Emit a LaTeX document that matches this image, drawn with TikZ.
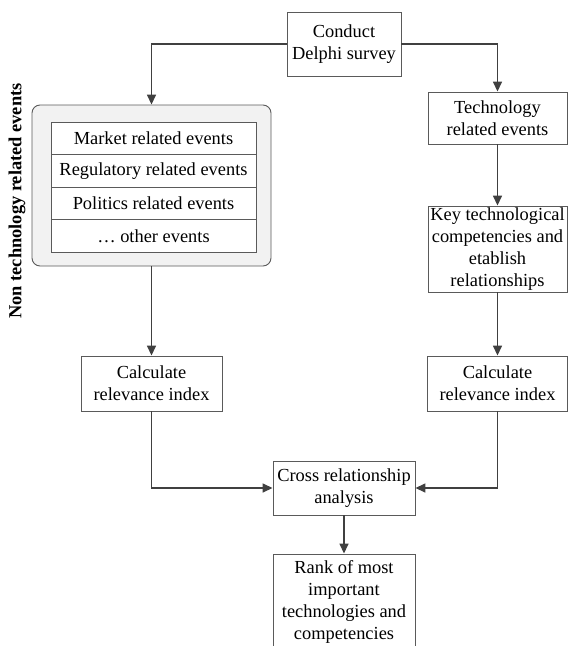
\documentclass[tikz,border=0pt]{standalone}
\usepackage{fontspec}
\setmainfont{Liberation Serif}
\usetikzlibrary{arrows.meta}
\definecolor{boxline}{HTML}{5A5A5A}
\definecolor{arrline}{HTML}{404040}
\definecolor{panel}{HTML}{F2F2F2}
\begin{document}
\begin{tikzpicture}[x=1pt,y=-1pt,
  every node/.style={font=\fontsize{18.4}{22}\selectfont},
  box/.style={draw=boxline, line width=0.9pt, fill=white, align=center, inner sep=0pt, rectangle},
  rowbox/.style={box, minimum width=205pt, minimum height=32.5pt},
  arr/.style={draw=arrline, line width=1.5pt, -{Triangle[length=10pt,width=9pt]}}]
\useasboundingbox (0,0) rectangle (568,646);

\node[box, minimum width=114pt, minimum height=64pt] (conduct) at (344,44) {Conduct\\Delphi survey};
\node[box, minimum width=139pt, minimum height=52pt] (tech) at (497.5,118) {Technology\\related events};
\node[box, minimum width=139pt, minimum height=86pt] (key) at (497.5,249) {Key technological\\competencies and\\etablish\\relationships};

\node[draw=boxline, line width=0.9pt, fill=panel, rounded corners=8pt, minimum width=239pt, minimum height=161pt, inner sep=0pt] (gray) at (151.5,185.5) {};
\node[rowbox] (r1) at (153.5,138.25) {Market related events};
\node[rowbox] (r2) at (153.5,170.75) {Regulatory related events};
\node[rowbox] (r3) at (153.5,203.25) {Politics related events};
\node[rowbox] (r4) at (153.5,235.75) {\ldots{} other events};

\node[rotate=90, font=\fontsize{18.4}{22}\selectfont\bfseries] (lbl) at (17,201) {Non technology related events};

\node[box, minimum width=141pt, minimum height=55pt] (calcL) at (151.5,383.5) {Calculate\\relevance index};
\node[box, minimum width=140pt, minimum height=55pt] (calcR) at (497.5,383.5) {Calculate\\relevance index};
\node[box, minimum width=142pt, minimum height=54pt] (cross) at (344,488) {Cross relationship\\analysis};
\node[box, minimum width=142pt, minimum height=96pt] (rank) at (344,602) {Rank of most\\important\\technologies and\\competencies};

\draw[arr] (conduct.west) -| (gray.north);
\draw[arr] (conduct.east) -| (tech.north);
\draw[arr] (tech.south) -- (key.north);
\draw[arr] (gray.south) -- (calcL.north);
\draw[arr] (key.south) -- (calcR.north);
\draw[arr] (calcL.south) |- (cross.west);
\draw[arr] (calcR.south) |- (cross.east);
\draw[arr] (cross.south) -- (rank.north);
\end{tikzpicture}
\end{document}
